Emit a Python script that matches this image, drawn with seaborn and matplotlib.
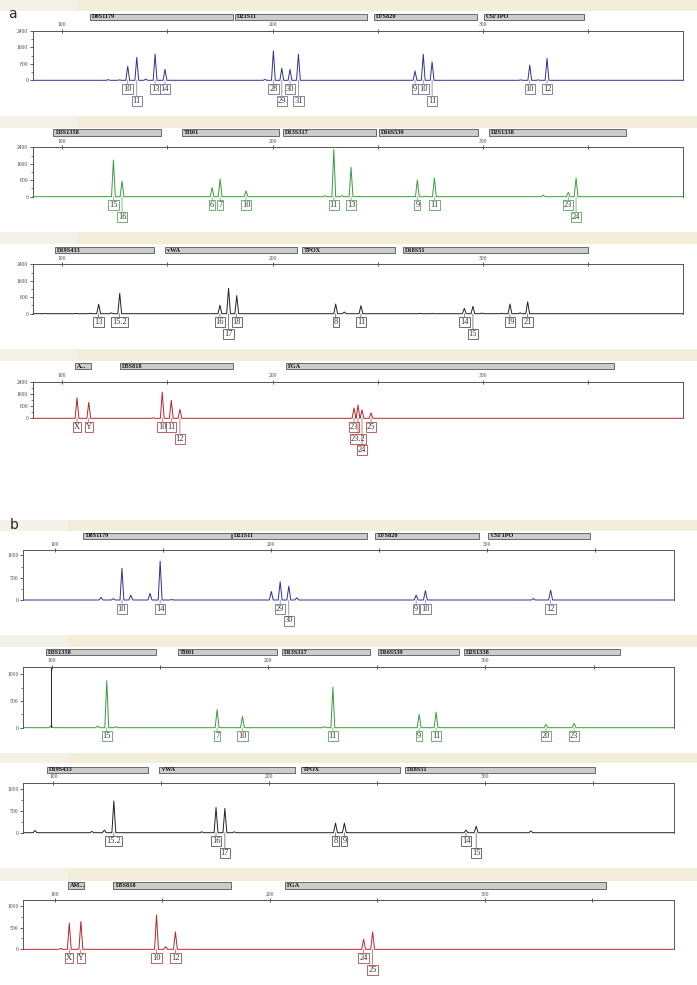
import matplotlib
matplotlib.use("Agg")
import matplotlib.pyplot as plt
import matplotlib.transforms as mtransforms
from matplotlib.patches import Rectangle
from matplotlib.ticker import MultipleLocator
import numpy as np
import pandas as pd
import seaborn as sns

# ---------------- data: (size in bp, height in RFU, allele call) ----------------
a1_peaks = [(122.0, 30, ""), (127.2, 20, ""), (131.2, 680, "10"), (135.5, 1110, "11"),
            (139.8, 60, ""), (144.2, 1270, "13"), (148.9, 530, "14"), (196.4, 40, ""),
            (200.4, 1430, "28"), (204.4, 580, "29"), (208.3, 530, "30"), (212.3, 1260, "31"),
            (267.7, 450, "9"), (271.6, 1260, "10"), (275.8, 890, "11"), (317.8, 20, ""),
            (322.2, 740, "10"), (326.2, 20, ""), (330.4, 1060, "12")]
a2_peaks = [(120.0, 15, ""), (124.4, 1780, "15"), (128.5, 760, "16"), (171.3, 440, "6"),
            (175.1, 860, "7"), (187.4, 280, "10"), (225.0, 50, ""), (229.1, 2300, "11"),
            (233.0, 50, ""), (237.3, 1430, "13"), (241.1, 20, ""), (264.5, 10, ""),
            (268.8, 810, "9"), (272.9, 20, ""), (276.9, 910, "11"), (328.6, 80, ""),
            (336.6, 20, ""), (340.5, 210, "23"), (344.2, 910, "24")]
a3_peaks = [(92.0, 10, ""), (106.6, 10, ""), (113.3, 20, ""), (117.4, 460, "13"),
            (123.3, 40, ""), (127.4, 990, "15.2"), (175.0, 410, "16"), (179.1, 1230, "17"),
            (183.0, 880, "18"), (230.0, 470, "8"), (234.1, 80, ""), (242.0, 390, "11"),
            (270.0, 15, ""), (276.0, 15, ""), (291.1, 260, "14"), (295.2, 360, "15"),
            (299.4, 30, ""), (308.8, 20, ""), (312.8, 470, "19"), (317.6, 40, ""),
            (321.2, 580, "21")]
a4_peaks = [(107.1, 1350, "X"), (112.7, 1050, "Y"), (143.1, 30, ""), (147.6, 1710, "10"),
            (151.9, 1180, "11"), (156.0, 590, "12"), (238.7, 680, "23"), (240.6, 870, "23.2"),
            (242.5, 550, "24"), (246.8, 350, "25")]
b1_peaks = [(121.3, 60, ""), (127.0, 30, ""), (131.0, 710, "10"), (135.1, 110, ""),
            (144.0, 150, ""), (148.7, 870, "14"), (154.0, 10, ""), (200.2, 190, ""),
            (204.3, 410, "29"), (208.3, 310, "30"), (212.0, 50, ""), (267.3, 110, "9"),
            (271.6, 210, "10"), (321.6, 30, ""), (329.6, 220, "12")]
b2_peaks = [(99.7, 40, ""), (121.2, 30, ""), (125.4, 880, "15"), (129.5, 20, ""),
            (176.3, 340, "7"), (188.0, 210, "10"), (225.8, 20, ""), (229.7, 760, "11"),
            (269.5, 250, "9"), (277.3, 290, "11"), (328.0, 60, "20"), (341.0, 80, "23")]
b3_peaks = [(91.5, 50, ""), (117.8, 30, ""), (123.6, 60, ""), (128.0, 730, "15.2"),
            (168.7, 20, ""), (175.3, 580, "16"), (179.4, 560, "17"), (183.8, 20, ""),
            (230.6, 220, "8"), (234.7, 220, "9"), (291.0, 60, "14"), (295.7, 150, "15"),
            (321.0, 40, "")]
b4_peaks = [(102.8, 20, ""), (106.7, 600, "X"), (112.1, 640, "Y"), (147.3, 790, "10"),
            (151.6, 60, ""), (156.1, 400, "12"), (243.7, 230, "24"), (247.9, 400, "25")]
b2_spike = 99.7

# marker bins (bp)
a1_loci = ["D8S1179", "D21S11", "D7S820", "CSF1PO"]
a1_bins = [(113.3, 181.2), (182.2, 244.9), (248.2, 297.1), (300.5, 348.0)]
a2_loci = ["D3S1358", "TH01", "D13S317", "D16S539", "D2S1338"]
a2_bins = [(95.9, 147.0), (157.1, 203.2), (205.1, 249.2), (250.7, 297.5), (302.9, 368.0)]
a3_loci = ["D19S433", "vWA", "TPOX", "D18S51"]
a3_bins = [(96.7, 143.7), (148.9, 211.5), (213.9, 258.2), (261.9, 350.0)]
a4_loci = ["A...", "D5S818", "FGA"]
a4_bins = [(106.0, 113.8), (127.6, 181.4), (206.3, 362.2)]
b1_loci = a1_loci
b1_bins = [(113.1, 181.4), (181.9, 244.7), (248.4, 296.6), (300.8, 347.9)]
b2_loci = a2_loci
b2_bins = [(97.4, 148.1), (158.1, 204.1), (206.1, 246.9), (250.6, 288.0), (290.0, 362.0)]
b3_loci = a3_loci
b3_bins = [(96.9, 143.9), (149.1, 211.9), (214.7, 260.5), (262.8, 350.7)]
b4_loci = ["AM...", "D5S818", "FGA"]
b4_bins = [(105.9, 113.7), (127.2, 182.0), (206.9, 356.6)]

# ---------------- layout (pixels) ----------------
W, H = 697, 985
PX = 72 / 100  # points per pixel
sns.set_style("white")
plt.rcParams["font.family"] = ["DejaVu Sans"]
SERIF = "Liberation Serif"

fig = plt.figure(figsize=(W / 100, H / 100), dpi=100)

BLUE, GREEN, BLACK, RED = "#2f3192", "#3c9a3c", "#222222", "#b3262b"
EC = {BLUE: "#70709a", GREEN: "#5aa55a", BLACK: "#555555", RED: "#b04a4a"}

panels = [
    # peaks, loci, bins, colour, box l,r,top,base, ymax, step, band y, split, marker y, xlim, row2, row3
    (a1_peaks, a1_loci, a1_bins, BLUE, (33, 683, 30.7, 80.3), 2400, 800, (0, 10.5), 77, (14, 20), (86.2, 395.0), {"11", "29", "31"}, set()),
    (a2_peaks, a2_loci, a2_bins, GREEN, (33, 683, 147.3, 196.7), 2400, 800, (115.5, 127.5), 77, (129.3, 135.7), (86.2, 395.0), {"16", "24"}, set()),
    (a3_peaks, a3_loci, a3_bins, BLACK, (33, 683, 264.3, 313.7), 2400, 800, (231.7, 244), 77, (247.3, 253.3), (86.2, 395.0), {"17", "15"}, set()),
    (a4_peaks, a4_loci, a4_bins, RED, (33, 683, 381.7, 418.3), 2400, 800, (349, 361), 77, (363, 369.3), (86.2, 395.0), {"12", "23.2"}, {"24"}),
    (b1_peaks, b1_loci, b1_bins, BLUE, (23.3, 674.3, 550.3, 600), 1113, 500, (520, 530.7), 68, (532.7, 538.7), (85.3, 386.9), {"30"}, set()),
    (b2_peaks, b2_loci, b2_bins, GREEN, (23.3, 674.3, 666.7, 727.7), 1143, 500, (635, 646.7), 68, (649, 655), (86.9, 387.2), set(), set()),
    (b3_peaks, b3_loci, b3_bins, BLACK, (23.3, 674.3, 782.7, 832.7), 1150, 500, (752.7, 763.3), 68, (766.7, 772.7), (86.1, 387.4), {"17", "15"}, set()),
    (b4_peaks, b4_loci, b4_bins, RED, (23.3, 674.3, 900, 949.3), 1134, 500, (868.3, 880.7), 68, (882.3, 889.3), (85.3, 388.3), {"25"}, set()),
]


def fig_rect(x0, y0, x1, y1, **kw):
    fig.patches.append(Rectangle((x0 / W, 1 - y1 / H), (x1 - x0) / W, (y1 - y0) / H,
                                 transform=fig.transFigure, **kw))


def trace(peaks, lo, hi, hw=0.9):
    xs, ys = [lo], [0]
    for bp, rfu, _ in sorted(peaks):
        xs += [bp - hw, bp, bp + hw]
        ys += [0, rfu, 0]
    xs.append(hi)
    ys.append(0)
    return pd.DataFrame({"bp": xs, "rfu": ys})


axes = []
for (peaks, loci, bins, color, box, ymax, step, band, split, mk, xlim, row2, row3) in panels:
    l, r, t, b = box
    # header band
    fig_rect(0, band[0], split, band[1], fc="#f4f2e8", ec="none")
    fig_rect(split, band[0], W, band[1], fc="#f2eed9", ec="none")

    ax = fig.add_axes([l / W, 1 - b / H, (r - l) / W, (b - t) / H])
    axes.append(ax)
    sns.lineplot(data=trace(peaks, *xlim), x="bp", y="rfu", sort=False, estimator=None,
                 color=color, lw=0.7, ax=ax, clip_on=False)
    ax.set_xlim(*xlim)
    ax.set_ylim(0, ymax)
    ax.set_xlabel("")
    ax.set_ylabel("")

    for s in ["left", "top", "right"]:
        ax.spines[s].set_color("#555555")
        ax.spines[s].set_linewidth(0.7)
    ax.spines["bottom"].set_visible(False)

    ax.xaxis.tick_top()
    ax.set_xticks(np.arange(100, 351, 50))
    ax.set_xticklabels(["100", "", "200", "", "300", ""])
    ax.tick_params(axis="x", direction="inout", length=3, width=0.6, pad=1,
                   labelsize=4, colors="#444444")
    ax.set_yticks(np.arange(0, ymax + 1, step))
    ax.yaxis.set_minor_locator(MultipleLocator(step / 2))
    ax.tick_params(axis="y", which="major", direction="out", length=2.5, width=0.6, pad=1,
                   labelsize=4, colors="#444444", left=True)
    ax.tick_params(axis="y", which="minor", direction="out", length=1.5, width=0.5,
                   colors="#444444", left=True)
    for lab in ax.get_xticklabels() + ax.get_yticklabels():
        lab.set_family(SERIF)

    # locus bins above the panel
    trans = mtransforms.blended_transform_factory(ax.transData, fig.transFigure)
    for name, (b0, b1) in zip(loci, bins):
        ax.add_patch(Rectangle((b0, 1 - mk[1] / H), b1 - b0, (mk[1] - mk[0]) / H,
                               transform=trans, fc="#cccccc", ec="#555555", lw=0.6,
                               clip_on=False))
        ax.text(b0 + 1.0, 1 - (mk[0] + mk[1]) / 2 / H, name, transform=trans,
                ha="left", va="center", fontsize=4.5, fontweight="bold",
                family=SERIF, color="#111111")

    # allele calls
    for bp, rfu, call in peaks:
        if not call:
            continue
        row = 3 if call in row3 else 2 if call in row2 else 1
        dy = [8.7, 20.5, 32.0][row - 1] * PX
        ax.annotate(call, xy=(bp, 0), xytext=(0, -dy), textcoords="offset points",
                    ha="center", va="center", fontsize=6, family=SERIF, color="#333333",
                    bbox=dict(boxstyle="square,pad=0.12", fc="white", ec=EC[color], lw=0.6),
                    arrowprops=dict(arrowstyle="-", color=EC[color], lw=0.5,
                                    shrinkA=0, shrinkB=0),
                    annotation_clip=False)

# spike in the green panel of b
axes[5].vlines(b2_spike, 0, 1143, color="#222222", lw=0.7)

fig.text(8 / W, 1 - 14 / H, "a", fontsize=10, va="center", ha="left")
fig.text(10 / W, 1 - 525 / H, "b", fontsize=10, va="center", ha="left")

fig.savefig("out.png", dpi=100, facecolor="white")
